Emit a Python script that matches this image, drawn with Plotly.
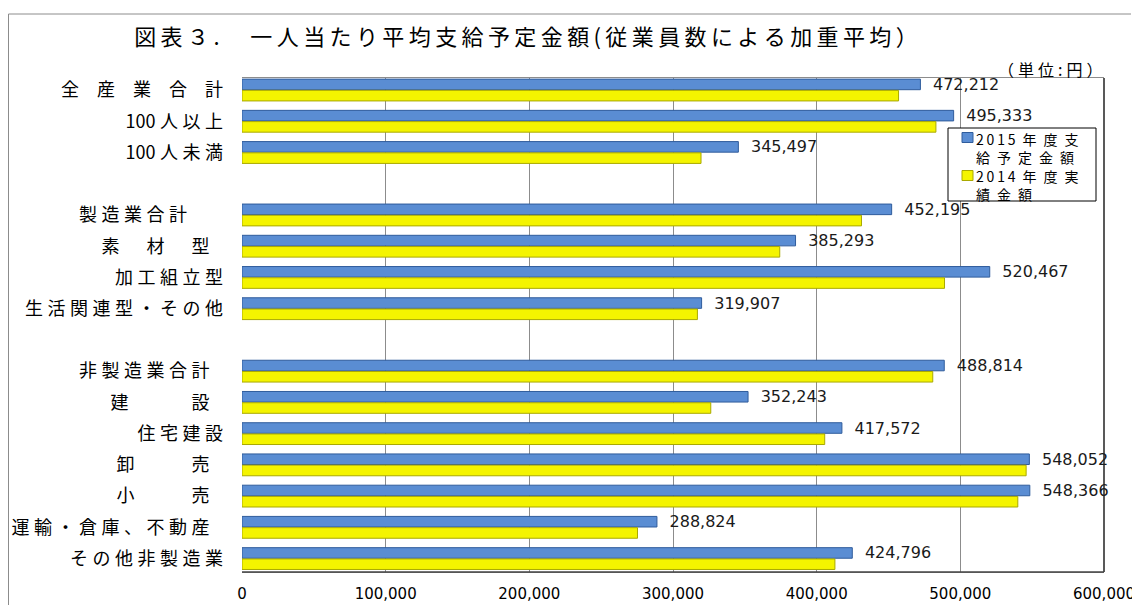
import plotly.graph_objects as go

# ---------------- data ----------------
categories = ["全産業合計", "100人以上", "100人未満", "_gap1",
              "製造業合計", "素材型", "加工組立型", "生活関連型・その他", "_gap2",
              "非製造業合計", "建設", "住宅建設", "卸売", "小売",
              "運輸・倉庫、不動産", "その他非製造業"]

tick_labels = ["全\u2002産\u2002業\u2002合\u2002計", "100人以上", "100人未満", "",
               "製造業合計\u3000\u2002", "素\u3000材\u3000型\u2002", "加工組立型",
               "生活関連型・その他", "",
               "非製造業合計\u2002", "建\u3000\u3000\u2002設\u2002", "住宅建設",
               "卸\u3000\u3000\u2006売\u2002", "小\u3000\u3000\u2006売\u2002",
               "運輸・倉庫、不動産\u2002", "その他非製造業"]

values_2015 = [472212, 495333, 345497, None, 452195, 385293, 520467, 319907, None,
               488814, 352243, 417572, 548052, 548366, 288824, 424796]
values_2014 = [457000, 483000, 319500, None, 431200, 374300, 489000, 317000, None,
               480800, 326300, 405600, 545800, 540000, 275300, 412700]

series_names = ["2015年度支|給予定金額", "2014年度実|績金額"]
series_colors = ["#5A8DD3", "#F4F400"]
series_edges = ["#2F5C9C", "#A9A900"]
x_ticks = [0, 100000, 200000, 300000, 400000, 500000, 600000]
title_text = "図表３.\u3000一人当たり平均支給予定金額(従業員数による加重平均）"
unit_text = "（単位:円）"

JP = "Noto Sans CJK JP"
NUM = "DejaVu Sans"


def spaced(s, sp="\u2006", sp_ascii=""):
    """insert letter-spacing characters between glyphs"""
    out = ""
    for i, ch in enumerate(s):
        if i > 0:
            both_ascii = ord(ch) < 128 and ord(s[i - 1]) < 128
            out += sp_ascii if both_ascii else sp
        out += ch
    return out


# page body has an 8px margin: work in reference pixels, convert to figure pixels
OFF = 8
W, H = 1140 - OFF, 605 - OFF
L, R, T, B = 242 - OFF, 1104 - OFF, 78 - OFF, 572 - OFF
pw, ph = R - L, B - T


def px_x(x):
    return (x - OFF - L) / pw


def px_y(y):
    return (B - (y - OFF)) / ph


fig = go.Figure()

fig.add_trace(go.Bar(
    y=categories, x=values_2015, orientation="h",
    name=series_names[0].replace("|", ""),
    marker=dict(color=series_colors[0], line=dict(color=series_edges[0], width=1)),
    text=["\u2002\u200a" + f"{v:,}" if v is not None else "" for v in values_2015],
    textposition="outside", constraintext="none", cliponaxis=False,
    textfont=dict(family=NUM, size=16, color="#1a1a1a"),
    hoverinfo="x+y", showlegend=False,
))
fig.add_trace(go.Bar(
    y=categories, x=values_2014, orientation="h",
    name=series_names[1].replace("|", ""),
    marker=dict(color=series_colors[1], line=dict(color=series_edges[1], width=1)),
    hoverinfo="x+y", showlegend=False,
))

fig.update_layout(
    width=W, height=H,
    margin=dict(l=L, r=W - R, t=T, b=H - B, pad=0, autoexpand=False),
    paper_bgcolor="white", plot_bgcolor="white",
    barmode="group", bargap=0.28, bargroupgap=0.06,
    title=dict(text=spaced(title_text, "\u2009"),
               font=dict(family=JP, size=22, color="#000000"),
               x=(526 - OFF) / W, xanchor="center", xref="container",
               y=1 - (37.5 - OFF) / H, yanchor="middle", yref="container"),
    font=dict(family=JP, color="#000000"),
)

fig.update_xaxes(
    range=[0, 600000], tickvals=x_ticks, tickformat=",",
    showgrid=True, gridcolor="#8C8C8C", gridwidth=1,
    zeroline=False, showline=True, linecolor="#8C8C8C", linewidth=1, mirror=True,
    ticks="", ticklabelstandoff=8, automargin=False,
    tickfont=dict(family=NUM, size=15, color="#000000"),
    fixedrange=True,
)
fig.update_yaxes(
    type="category", categoryorder="array", categoryarray=categories,
    tickvals=categories, ticktext=[spaced(t, "\u2005") for t in tick_labels],
    range=[15.43, -0.385],
    showgrid=False, zeroline=False, showline=False,
    ticks="", ticklabelstandoff=18, automargin=False,
    tickfont=dict(family=JP, size=18, color="#000000"),
    fixedrange=True,
)

# plot frame right/bottom (dark) and outer chart border (gray)
fig.add_shape(type="line", xref="paper", yref="paper", x0=1, x1=1, y0=0, y1=1,
              line=dict(color="#222222", width=1.5))
fig.add_shape(type="line", xref="paper", yref="paper", x0=0, x1=1, y0=0, y1=0,
              line=dict(color="#444444", width=1.5))
fig.add_shape(type="line", xref="paper", yref="paper",
              x0=px_x(8.5), x1=px_x(1131), y0=px_y(14), y1=px_y(14),
              line=dict(color="#8C8C8C", width=1))
fig.add_shape(type="line", xref="paper", yref="paper",
              x0=px_x(8.5), x1=px_x(8.5), y0=px_y(14), y1=px_y(620),
              line=dict(color="#8C8C8C", width=1))

# unit note
fig.add_annotation(text=spaced(unit_text, "\u2005"), xref="paper", yref="paper",
                   x=px_x(1104), y=px_y(69), xanchor="right", yanchor="middle",
                   showarrow=False, font=dict(family=JP, size=16, color="#000000"))

# legend box (compact two-line entries, as in the reference)
fig.add_shape(type="rect", xref="paper", yref="paper",
              x0=px_x(948), x1=px_x(1096), y0=px_y(201), y1=px_y(128),
              line=dict(color="#000000", width=1), fillcolor="white", layer="above")
legend_swatch_y = [137.5, 175.5]
legend_text_y = [147.5, 185.0]
for i, name in enumerate(series_names):
    ys = legend_swatch_y[i]
    fig.add_shape(type="rect", xref="paper", yref="paper",
                  x0=px_x(962), x1=px_x(973), y0=px_y(ys + 5), y1=px_y(ys - 5),
                  line=dict(color=series_edges[i], width=1),
                  fillcolor=series_colors[i], layer="above")
    fig.add_annotation(text="<br>".join(spaced(p, "\u2002", "\u2009") for p in name.split("|")),
                       xref="paper", yref="paper",
                       x=px_x(975), y=px_y(legend_text_y[i]),
                       xanchor="left", yanchor="middle", align="left",
                       showarrow=False, borderpad=0,
                       font=dict(family=JP, size=14, color="#000000"))

fig.write_html("out.html")
